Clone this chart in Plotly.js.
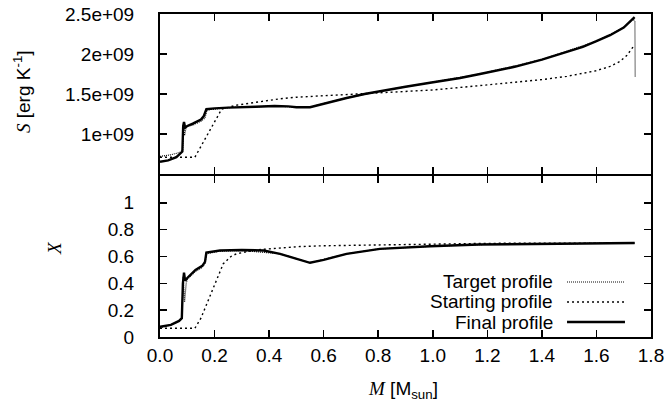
<!DOCTYPE html>
<html>
<head>
<meta charset="utf-8">
<script src="https://cdn.plot.ly/plotly-3.0.1.min.js"></script>
<style>html,body{margin:0;padding:0;background:#fff;}#chart{width:667px;height:407px;}</style>
</head>
<body>
<div id="chart"></div>
<script>
// ---- Data (entropy S in erg/K, hydrogen fraction X, vs mass M in Msun) ----
var massFinal = [0.0, 0.03, 0.06, 0.075, 0.082, 0.085, 0.088, 0.092, 0.10, 0.12, 0.15, 0.16, 0.17, 0.20, 0.25, 0.35, 0.42, 0.47, 0.50, 0.55, 0.60, 0.684, 0.75, 0.806, 0.90, 0.99, 1.10, 1.173, 1.246, 1.30, 1.40, 1.49, 1.55, 1.60, 1.65, 1.70, 1.74];
var sFinal    = [0.653e9, 0.67e9, 0.71e9, 0.75e9, 0.78e9, 1.10e9, 1.15e9, 1.08e9, 1.10e9, 1.13e9, 1.18e9, 1.22e9, 1.31e9, 1.32e9, 1.33e9, 1.34e9, 1.35e9, 1.345e9, 1.335e9, 1.335e9, 1.38e9, 1.45e9, 1.50e9, 1.535e9, 1.59e9, 1.64e9, 1.70e9, 1.75e9, 1.80e9, 1.84e9, 1.93e9, 2.03e9, 2.09e9, 2.16e9, 2.235e9, 2.33e9, 2.46e9];
var massFinalX = [0.0, 0.04, 0.07, 0.08, 0.084, 0.088, 0.092, 0.10, 0.13, 0.155, 0.165, 0.17, 0.22, 0.30, 0.38, 0.44, 0.48, 0.55, 0.60, 0.684, 0.806, 0.99, 1.17, 1.40, 1.74];
var xFinal     = [0.076, 0.09, 0.12, 0.14, 0.40, 0.48, 0.42, 0.44, 0.50, 0.53, 0.56, 0.63, 0.645, 0.648, 0.645, 0.62, 0.595, 0.553, 0.575, 0.62, 0.657, 0.676, 0.689, 0.695, 0.701];

var massStart = [0.0, 0.128, 0.226, 0.28, 0.40, 0.44, 0.50, 0.684, 0.806, 1.0, 1.173, 1.246, 1.401, 1.491, 1.598, 1.65, 1.686, 1.711, 1.729, 1.739];
var sStart    = [0.71e9, 0.71e9, 1.31e9, 1.36e9, 1.42e9, 1.44e9, 1.46e9, 1.49e9, 1.515e9, 1.55e9, 1.605e9, 1.627e9, 1.68e9, 1.72e9, 1.79e9, 1.845e9, 1.907e9, 1.98e9, 2.07e9, 2.11e9];
var massStartX = [0.0, 0.128, 0.15, 0.183, 0.21, 0.232, 0.26, 0.28, 0.354, 0.44, 0.513, 0.60, 0.80, 1.0, 1.2, 1.74];
var xStart     = [0.065, 0.065, 0.14, 0.30, 0.43, 0.546, 0.60, 0.62, 0.65, 0.665, 0.674, 0.68, 0.687, 0.693, 0.698, 0.70];

var massTarget = [0.0, 0.04, 0.073, 0.083, 0.086, 0.090, 0.096, 0.12, 0.15, 0.165, 0.172, 0.20, 0.25, 0.35, 0.42, 0.50, 0.55, 0.60, 0.684, 0.806, 0.99, 1.173, 1.40, 1.60, 1.70, 1.735, 1.741, 1.742];
var sTarget    = [0.72e9, 0.74e9, 0.77e9, 0.80e9, 1.10e9, 0.98e9, 1.09e9, 1.11e9, 1.16e9, 1.20e9, 1.30e9, 1.31e9, 1.33e9, 1.34e9, 1.35e9, 1.335e9, 1.335e9, 1.38e9, 1.45e9, 1.535e9, 1.64e9, 1.75e9, 1.93e9, 2.16e9, 2.33e9, 2.44e9, 2.40e9, 1.72e9];
var massTargetX = [0.0, 0.04, 0.07, 0.08, 0.085, 0.090, 0.096, 0.10, 0.13, 0.155, 0.165, 0.17, 0.22, 0.30, 0.44, 0.55, 0.684, 0.806, 0.99, 1.17, 1.74];
var xTarget     = [0.07, 0.09, 0.12, 0.14, 0.45, 0.26, 0.40, 0.43, 0.49, 0.52, 0.55, 0.62, 0.64, 0.645, 0.62, 0.553, 0.62, 0.657, 0.676, 0.689, 0.701];

var seriesNames = ["Target profile", "Starting profile", "Final profile"];
var xTickVals = [0, 0.2, 0.4, 0.6, 0.8, 1.0, 1.2, 1.4, 1.6, 1.8];
var xTickText = ["0.0", "0.2", "0.4", "0.6", "0.8", "1.0", "1.2", "1.4", "1.6", "1.8"];
var sTickVals = [1e9, 1.5e9, 2e9, 2.5e9];
var sTickText = ["1e+09", "1.5e+09", "2e+09", "2.5e+09"];
var hTickVals = [0, 0.2, 0.4, 0.6, 0.8, 1];
var hTickText = ["0", "0.2", "0.4", "0.6", "0.8", "1"];

// ---- Styles ----
var FONT = "'Liberation Sans', Arial, Helvetica, sans-serif";
var SERIF = "'Liberation Serif', 'Times New Roman', serif";
var fs = 19;
var styleTarget = {color: "#000", width: 1.2, dash: "1px,1px"};
var styleStart  = {color: "#000", width: 1.4, dash: "2px,3px"};
var styleFinal  = {color: "#000", width: 2.4, dash: "solid"};

var traces = [
  {x: massStart,  y: sStart,  xaxis: "x", yaxis: "y", mode: "lines", line: styleStart,  name: seriesNames[1]},
  {x: massFinal,  y: sFinal,  xaxis: "x", yaxis: "y", mode: "lines", line: styleFinal,  name: seriesNames[2]},
  {x: massTarget, y: sTarget, xaxis: "x", yaxis: "y", mode: "lines", line: styleTarget, name: seriesNames[0]},
  {x: massStartX,  y: xStart,  xaxis: "x2", yaxis: "y2", mode: "lines", line: styleStart,  name: seriesNames[1]},
  {x: massFinalX,  y: xFinal,  xaxis: "x2", yaxis: "y2", mode: "lines", line: styleFinal,  name: seriesNames[2]},
  {x: massTargetX, y: xTarget, xaxis: "x2", yaxis: "y2", mode: "lines", line: styleTarget, name: seriesNames[0]}
];

var axCommon = {
  showline: true, linecolor: "#000", linewidth: 2, mirror: "allticks",
  ticks: "inside", ticklen: 7, tickwidth: 1.5, tickcolor: "#000",
  showgrid: false, zeroline: false,
  tickfont: {family: FONT, size: fs, color: "#000"}
};
function ax(extra) { return Object.assign({}, axCommon, extra); }

// legend (gnuplot style: text right-aligned, sample to the right)
var legRows = [0.1703, 0.1084, 0.0464];
var legStyles = [styleTarget, styleStart, styleFinal];
var shapes = [];
var annotations = [];
for (var i = 0; i < 3; i++) {
  annotations.push({xref: "paper", yref: "paper", x: 0.8045, y: legRows[i], xanchor: "right", yanchor: "middle",
    text: seriesNames[i], showarrow: false, font: {family: FONT, size: fs, color: "#000"}});
  shapes.push({type: "line", xref: "paper", yref: "paper", x0: 0.829, x1: 0.947, y0: legRows[i], y1: legRows[i],
    line: legStyles[i]});
}
annotations.push({xref: "paper", yref: "paper", x: -0.281, y: 0.7585, xanchor: "center", yanchor: "middle", textangle: -90,
  showarrow: false, font: {family: FONT, size: fs, color: "#000"},
  text: "<span style=\"font-family:'Liberation Serif',serif\"><i>S</i></span> [erg K<sup>-1</sup>]"});
annotations.push({xref: "paper", yref: "paper", x: -0.2157, y: 0.2755, xanchor: "center", yanchor: "middle", textangle: -90,
  showarrow: false, font: {family: SERIF, size: fs, color: "#000"}, text: "<i>X</i>"});
annotations.push({xref: "paper", yref: "paper", x: 0.495, y: -0.163, xanchor: "center", yanchor: "middle",
  showarrow: false, font: {family: FONT, size: fs, color: "#000"},
  text: "<span style=\"font-family:'Liberation Serif',serif\"><i>M</i></span> [M<sub>sun</sub>]"});

var layout = {
  width: 667, height: 407,
  margin: {l: 160, r: 16, t: 14, b: 70},
  paper_bgcolor: "#fff", plot_bgcolor: "#fff",
  showlegend: false,
  font: {family: FONT, size: fs, color: "#000"},
  xaxis: ax({domain: [0, 1], anchor: "y", range: [0, 1.8], tickvals: xTickVals, ticktext: xTickText, showticklabels: false}),
  yaxis: ax({domain: [0.5047, 1], anchor: "x", range: [0.5e9, 2.5e9], tickvals: sTickVals, ticktext: sTickText, ticklabelstandoff: 20}),
  xaxis2: ax({domain: [0, 1], anchor: "y2", range: [0, 1.8], tickvals: xTickVals, ticktext: xTickText, ticklabelstandoff: 0}),
  yaxis2: ax({domain: [0, 0.4985], anchor: "x2", range: [0, 1.2], tickvals: hTickVals, ticktext: hTickText, ticklabelstandoff: 20}),
  shapes: shapes,
  annotations: annotations
};

Plotly.newPlot("chart", traces, layout, {staticPlot: true, displayModeBar: false});
</script>
</body>
</html>
